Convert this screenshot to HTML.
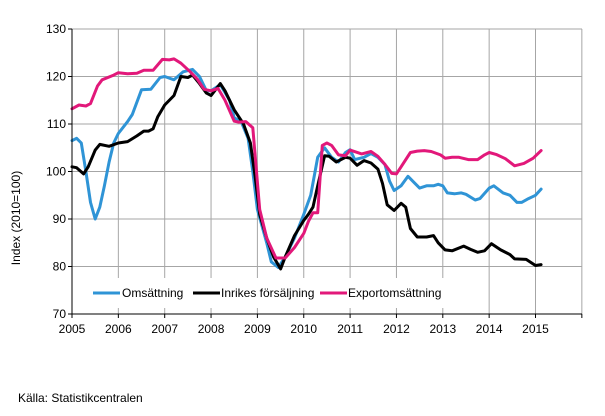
<!DOCTYPE html>
<html><head><meta charset="utf-8"><style>
html,body{margin:0;padding:0;background:#fff;}
svg{display:block;font-family:"Liberation Sans",sans-serif;}
</style></head><body>
<svg id="s" width="605" height="416" viewBox="0 0 605 416" xmlns="http://www.w3.org/2000/svg">
<g id="grid" stroke="#a6a6a6" stroke-width="1"></g>
<g id="series" fill="none" stroke-width="3" stroke-linejoin="round" stroke-linecap="round"></g>
<rect x="76" y="278" width="368" height="30" fill="#fff"/>
<g id="axes" stroke="#000" stroke-width="1"></g>
<g id="labels" font-size="12" fill="#000"></g>
<text x="20" y="218" font-size="12" text-anchor="middle" transform="rotate(-90 20 218)">Index  (2010=100)</text>
<g font-size="12">
<line x1="93" y1="293" x2="120" y2="293" stroke="#2f94d6" stroke-width="3"/>
<text x="122" y="297">Omsättning</text>
<line x1="193" y1="293" x2="220" y2="293" stroke="#000" stroke-width="3"/>
<text x="221" y="297">Inrikes försäljning</text>
<line x1="320" y1="293" x2="347" y2="293" stroke="#e2187a" stroke-width="3"/>
<text x="348" y="297">Exportomsättning</text>
</g>
<text x="18" y="402" font-size="12">Källa: Statistikcentralen</text>
</svg>
<script>
var NS="http://www.w3.org/2000/svg";
function X(t){return 72+(t-2005)*46.35;}
function Y(v){return 314-(v-70)*4.75;}
function el(p,n,a,txt){var e=document.createElementNS(NS,n);for(var k in a)e.setAttribute(k,a[k]);if(txt!==undefined)e.textContent=txt;document.getElementById(p).appendChild(e);}
for(var v=80;v<=130;v+=10){el("grid","line",{x1:72,x2:582,y1:Y(v),y2:Y(v)});}
for(var y=2006;y<=2016;y++){el("grid","line",{x1:X(y),x2:X(y),y1:29,y2:314});}
el("axes","line",{x1:72,x2:72,y1:29,y2:314});
el("axes","line",{x1:72,x2:582,y1:314,y2:314});
for(var v=70;v<=130;v+=10){el("axes","line",{x1:68,x2:72,y1:Y(v),y2:Y(v)});el("labels","text",{x:66,y:Y(v)+4,"text-anchor":"end"},v);}
for(var y=2005;y<=2016;y++){el("axes","line",{x1:X(y),x2:X(y),y1:314,y2:318});}
for(var y=2005;y<=2015;y++){el("labels","text",{x:X(y),y:333,"text-anchor":"middle"},y);}
var blue=[2005.0,106.5,2005.1,107,2005.2,106,2005.3,100,2005.4,93.5,2005.5,90,2005.6,92.5,2005.7,97,2005.8,102,2005.9,106,2006.0,108,2006.2,110.5,2006.3,112,2006.5,117.2,2006.7,117.3,2006.9,119.8,2007.0,120,2007.2,119.3,2007.4,121,2007.6,121.5,2007.75,120,2007.9,117,2008.0,117,2008.2,118.3,2008.4,115,2008.5,111.3,2008.65,110.5,2008.8,107,2008.9,100,2009.0,92,2009.2,85,2009.3,81,2009.45,79.8,2009.6,82,2009.8,86,2010.0,91,2010.15,95,2010.3,103,2010.45,105,2010.6,103,2010.75,102,2010.9,104,2011.0,104.6,2011.1,102.5,2011.3,103,2011.45,103.8,2011.6,103,2011.75,101.5,2011.85,98,2011.95,96,2012.1,97,2012.25,99,2012.4,97.5,2012.5,96.5,2012.65,97,2012.8,97,2012.9,97.3,2013.0,97,2013.1,95.5,2013.25,95.3,2013.4,95.5,2013.5,95.2,2013.7,94,2013.8,94.3,2014.0,96.5,2014.1,97,2014.3,95.5,2014.45,95,2014.6,93.5,2014.7,93.5,2014.85,94.3,2015.0,95,2015.12,96.3];
var black=[2005.0,101,2005.1,100.8,2005.25,99.5,2005.35,101,2005.5,104.5,2005.6,105.7,2005.8,105.3,2006.0,106,2006.2,106.3,2006.4,107.5,2006.55,108.5,2006.65,108.5,2006.75,109,2006.85,111.5,2007.0,114,2007.2,116,2007.35,120,2007.5,119.8,2007.6,120.3,2007.75,118.5,2007.9,116.5,2008.0,116,2008.2,118.5,2008.3,117,2008.5,113,2008.7,110,2008.85,106,2008.95,99,2009.05,91,2009.2,86,2009.35,82,2009.5,79.5,2009.6,82,2009.8,86.5,2010.0,89.7,2010.1,91,2010.2,92.5,2010.3,97,2010.45,103.3,2010.55,103.2,2010.7,102,2010.9,103,2011.0,102.8,2011.15,101.3,2011.3,102.3,2011.45,101.8,2011.6,100.5,2011.7,97.5,2011.8,93,2011.95,91.8,2012.1,93.3,2012.2,92.5,2012.3,88,2012.45,86.2,2012.65,86.2,2012.8,86.5,2012.9,85,2013.05,83.5,2013.2,83.3,2013.45,84.3,2013.6,83.6,2013.75,83,2013.9,83.3,2014.05,84.8,2014.25,83.5,2014.45,82.5,2014.55,81.6,2014.8,81.5,2015.0,80.2,2015.12,80.4];
var pink=[2005.0,113.2,2005.15,114,2005.3,113.8,2005.4,114.3,2005.55,118,2005.65,119.3,2005.9,120.3,2006.0,120.8,2006.2,120.6,2006.4,120.7,2006.55,121.3,2006.75,121.3,2006.95,123.6,2007.1,123.5,2007.2,123.7,2007.35,122.8,2007.55,121,2007.7,119.5,2007.85,117.3,2008.0,117,2008.15,117.5,2008.3,115,2008.5,110.6,2008.6,110.4,2008.75,110.5,2008.9,109.2,2009.05,92,2009.2,86,2009.4,81.8,2009.6,81.8,2009.8,84,2010.0,87,2010.1,89.5,2010.2,91.3,2010.3,91.3,2010.4,105.5,2010.5,106,2010.6,105.5,2010.75,103.5,2010.9,103.3,2011.0,104.5,2011.25,103.7,2011.45,104.2,2011.6,103.2,2011.75,101.5,2011.9,99.6,2012.0,99.5,2012.1,101,2012.3,104,2012.45,104.3,2012.6,104.4,2012.75,104.2,2012.95,103.5,2013.05,102.8,2013.2,103,2013.35,103,2013.55,102.5,2013.75,102.5,2013.9,103.5,2014.0,104,2014.15,103.6,2014.35,102.7,2014.55,101.2,2014.75,101.7,2014.95,102.8,2015.12,104.4];
function pts(a){var s=[];for(var i=0;i<a.length;i+=2)s.push(X(a[i]).toFixed(1)+","+Y(a[i+1]).toFixed(1));return s.join(" ");}
el("series","polyline",{points:pts(blue),stroke:"#2f94d6"});
el("series","polyline",{points:pts(black),stroke:"#000"});
el("series","polyline",{points:pts(pink),stroke:"#e2187a"});
</script>
</body></html>
